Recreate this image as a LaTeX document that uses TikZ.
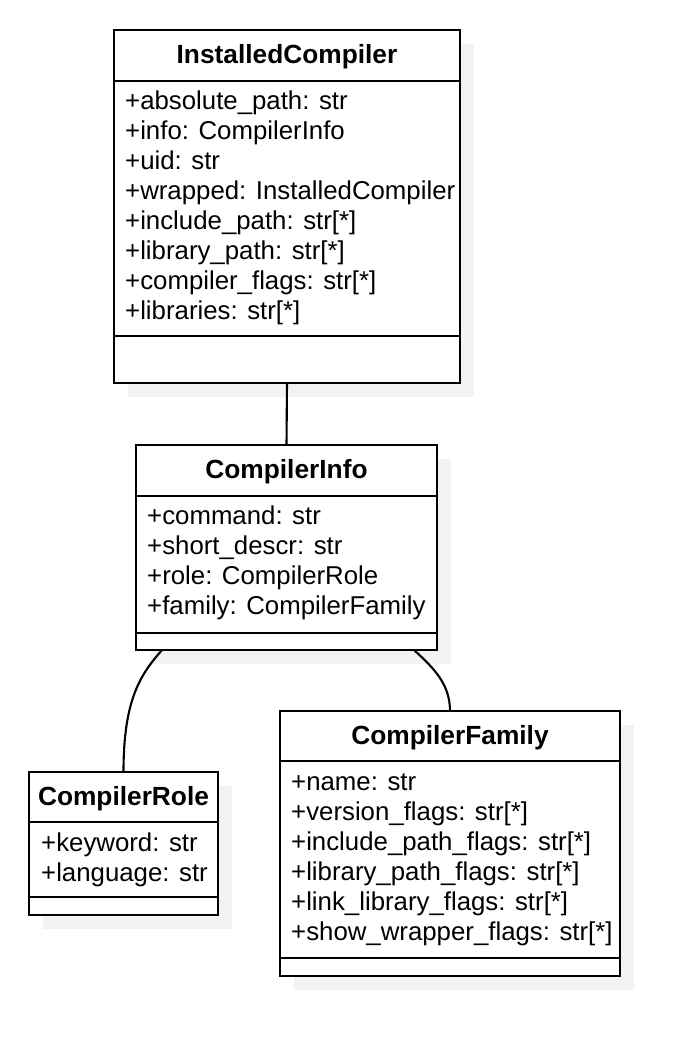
\documentclass[tikz,border=0pt]{standalone}
\usepackage{fontspec}
\setmainfont{Liberation Sans}
\usetikzlibrary{calc,backgrounds}
\definecolor{shadowc}{HTML}{F2F2F2}
\tikzset{
  cls/.style={draw=black, fill=white, line width=2.4bp, rectangle, inner sep=0pt, outer sep=0pt, anchor=north west},
  sep/.style={draw=black, line width=2.4bp},
  hdr/.style={font=\fontsize{26.3bp}{30bp}\selectfont\bfseries, inner sep=0pt, anchor=base},
  attr/.style={font=\fontsize{25.8bp}{30bp}\selectfont, inner sep=0pt, anchor=base west},
  conn/.style={draw=black, line width=2.1bp},
  shad/.style={fill=shadowc}
}
\begin{document}
\begin{tikzpicture}[x=1bp,y=-1bp]
\useasboundingbox (0,0) rectangle (690,1046);
% class boxes
\node[cls, minimum width=346bp, minimum height=353bp] (ic) at (114,30) {};
\node[cls, minimum width=301bp, minimum height=205bp] (ci) at (136,445) {};
\node[cls, minimum width=189bp, minimum height=143bp] (cr) at (29,772) {};
\node[cls, minimum width=340bp, minimum height=265bp] (cf) at (280,711) {};
% shadows and background
\begin{scope}[on background layer]
  \fill[white] (0,0) rectangle (690,1046);
  \foreach \b in {ic,ci,cr,cf}
    \fill[shad] ($(\b.north west)+(14,14)$) rectangle ($(\b.south east)+(14,14)$);
\end{scope}
% compartment lines
\draw[sep] ($(ic.north west)+(0,51)$) -- ($(ic.north east)+(0,51)$);
\draw[sep] ($(ic.south west)+(0,-47)$) -- ($(ic.south east)+(0,-47)$);
\draw[sep] ($(ci.north west)+(0,51)$) -- ($(ci.north east)+(0,51)$);
\draw[sep] ($(ci.south west)+(0,-17)$) -- ($(ci.south east)+(0,-17)$);
\draw[sep] ($(cr.north west)+(0,50)$) -- ($(cr.north east)+(0,50)$);
\draw[sep] ($(cr.south west)+(0,-18)$) -- ($(cr.south east)+(0,-18)$);
\draw[sep] ($(cf.north west)+(0,50)$) -- ($(cf.north east)+(0,50)$);
\draw[sep] ($(cf.south west)+(0,-18)$) -- ($(cf.south east)+(0,-18)$);
% headers
\node[hdr] (ich) at ($(ic.north)+(0,33)$) {InstalledCompiler};
\node[hdr] (cih) at ($(ci.north)+(0,33)$) {CompilerInfo};
\node[hdr] (crh) at ($(cr.north)+(0,33)$) {CompilerRole};
\node[hdr] (cfh) at ($(cf.north)+(0,33)$) {CompilerFamily};
% attributes
\foreach [count=\i] \t in {{+absolute\_path: str},{+info: CompilerInfo},{+uid: str},{+wrapped: InstalledCompiler},{+include\_path: str[*]},{+library\_path: str[*]},{+compiler\_flags: str[*]},{+libraries: str[*]}}
  \node[attr] (ica\i) at ($(ic.north west)+(11,{79.5+30*(\i-1)})$) {\t};
\foreach [count=\i] \t in {{+command: str},{+short\_descr: str},{+role: CompilerRole},{+family: CompilerFamily}}
  \node[attr] (cia\i) at ($(ci.north west)+(11,{79.5+30*(\i-1)})$) {\t};
\foreach [count=\i] \t in {{+keyword: str},{+language: str}}
  \node[attr] (cra\i) at ($(cr.north west)+(12,{79.5+30*(\i-1)})$) {\t};
\foreach [count=\i] \t in {{+name: str},{+version\_flags: str[*]},{+include\_path\_flags: str[*]},{+library\_path\_flags: str[*]},{+link\_library\_flags: str[*]},{+show\_wrapper\_flags: str[*]}}
  \node[attr] (cfa\i) at ($(cf.north west)+(11,{79.5+30*(\i-1)})$) {\t};
% connectors
\draw[conn] (ic.south) -- (ci.north);
\draw[conn] ($(ci.south west)+(26,0)$) .. controls +(-22,25) and +(0,-72) .. (cr.north);
\draw[conn] ($(ci.south east)+(-23,0)$) .. controls +(21,19) and +(0,-26) .. (cf.north);
\end{tikzpicture}
\end{document}
